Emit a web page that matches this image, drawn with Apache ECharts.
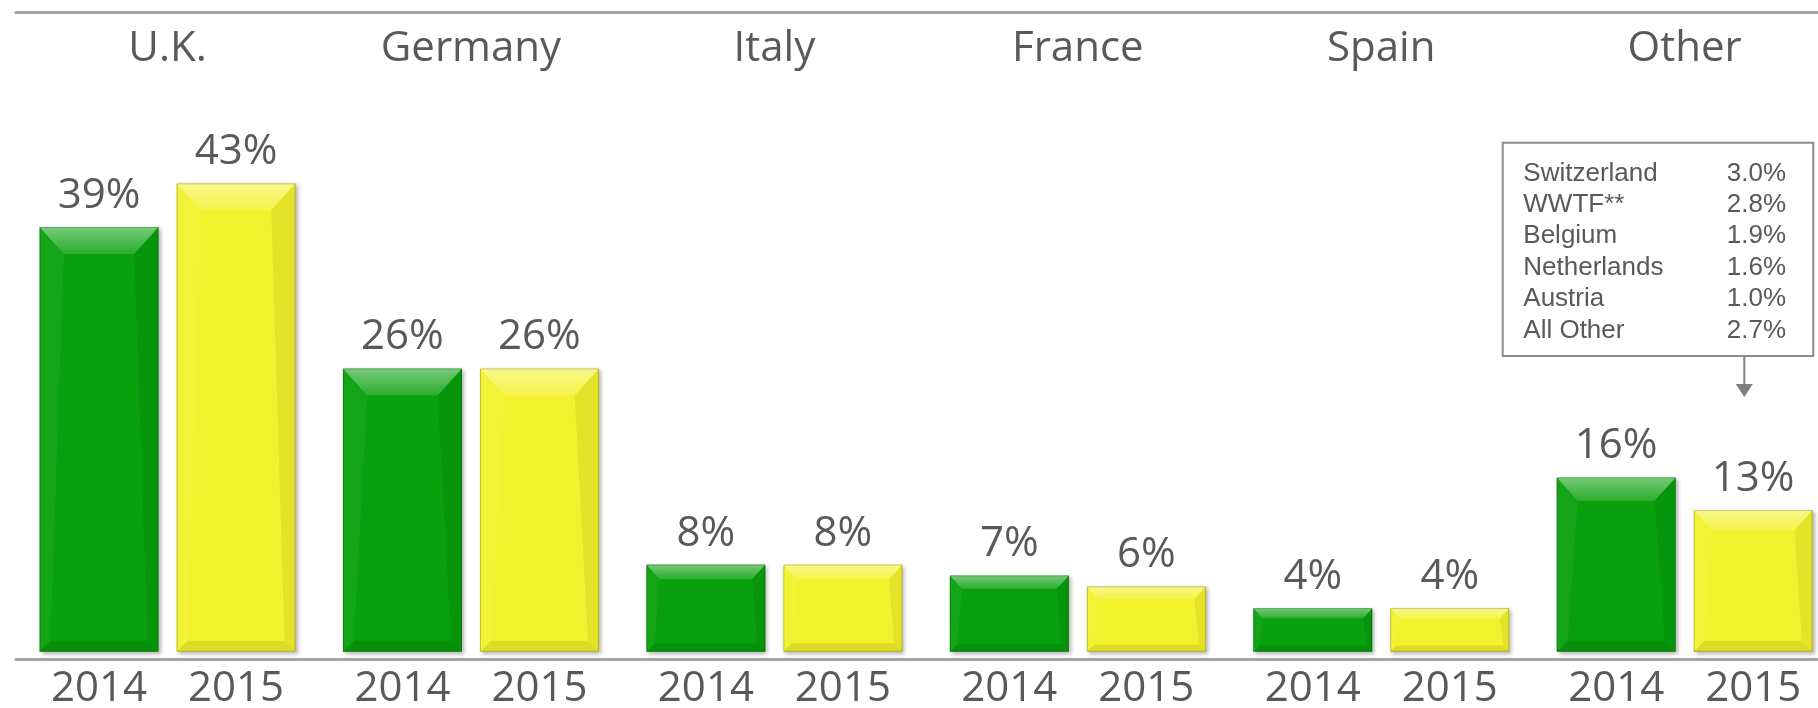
<!DOCTYPE html>
<html><head><meta charset="utf-8">
<script src="https://cdn.jsdelivr.net/npm/echarts@6/dist/echarts.min.js"></script>
<style>html,body{margin:0;padding:0;background:#fff}#c{width:1818px;height:708px}</style>
</head><body><div id="c"></div>
<script>
// ---- data ----
const categories = ['U.K.', 'Germany', 'Italy', 'France', 'Spain', 'Other'];
const years = ['2014', '2015'];
const share2014 = [39, 26, 8, 7, 4, 16];
const share2015 = [43, 26, 8, 6, 4, 13];
const otherNames = ['Switzerland', 'WWTF**', 'Belgium', 'Netherlands', 'Austria', 'All Other'];
const otherShares = ['3.0%', '2.8%', '1.9%', '1.6%', '1.0%', '2.7%'];

// ---- style / layout ----
const BAR_W = 119, BAR_GAP = 18;
const TEXT = '#595959';
const FONT = '"Open Sans", sans-serif';
const FW = 500;
const COLORS = ['#08A00C', '#F2F22C'];
const LINE = '#A6A6A6';

function bevel(sideIdx) {
  return function (params, api) {
    const cat = api.value(0), v = api.value(1);
    const base = api.coord([cat, 0]);
    const top = api.coord([cat, v]);
    const cx = base[0] + (sideIdx === 0 ? -1 : 1) * (BAR_W + BAR_GAP) / 2;
    const x0 = cx - BAR_W / 2, x1 = cx + BAR_W / 2, y0 = top[1], y1 = base[1];
    const h = y1 - y0;
    const b = Math.min(27, 6 + h * 0.1);
    const bi = b * 0.9;
    const s = Math.min(11, 4 + h * 0.05);
    return {
      type: 'group', children: [
        { type: 'polygon', shape: { points: [[x0, y0], [x1, y0], [x1 - bi, y0 + b], [x0 + bi, y0 + b]] },
          style: { fill: { type: 'linear', x: 0, y: 0, x2: 0, y2: 1, colorStops: [
            { offset: 0, color: 'rgba(255,255,255,0.45)' }, { offset: 1, color: 'rgba(255,255,255,0.14)' }] } } },
        { type: 'polygon', shape: { points: [[x0, y0], [x0 + bi, y0 + b], [x0 + s, y1 - s], [x0, y1]] },
          style: { fill: 'rgba(255,255,255,0.05)' } },
        { type: 'polygon', shape: { points: [[x1, y0], [x1 - bi, y0 + b], [x1 - s, y1 - s], [x1, y1]] },
          style: { fill: 'rgba(0,0,0,0.06)' } },
        { type: 'polygon', shape: { points: [[x0, y1], [x1, y1], [x1 - s, y1 - s], [x0 + s, y1 - s]] },
          style: { fill: 'rgba(0,0,0,0.09)' } },
        { type: 'rect', shape: { x: x0 + 0.5, y: y0 + 0.5, width: BAR_W - 1, height: h - 1 },
          style: { fill: null, stroke: 'rgba(0,0,0,0.2)', lineWidth: 1 } }
      ]
    };
  };
}

const chart = echarts.init(document.getElementById('c'), null, { renderer: 'canvas' });

const BOX_FONT = '26px "Liberation Sans", Arial, sans-serif';
const graphics = [
  { type: 'rect', shape: { x: 1502.7, y: 142.7, width: 310.6, height: 213.3 },
    style: { fill: '#fff', stroke: '#8C8C8C', lineWidth: 2 } },
  { type: 'line', shape: { x1: 1744.3, y1: 357, x2: 1744.3, y2: 386 },
    style: { stroke: '#7F7F7F', lineWidth: 2 } },
  { type: 'polygon', shape: { points: [[1735.8, 384], [1752.8, 384], [1744.3, 397]] },
    style: { fill: '#7F7F7F' } }
];
otherNames.forEach(function (n, i) {
  graphics.push({ type: 'text', x: 1523.3, y: 173.5 + 31.4 * i,
    style: { text: n, font: BOX_FONT, fill: TEXT, align: 'left', verticalAlign: 'middle' } });
  graphics.push({ type: 'text', x: 1786, y: 173.5 + 31.4 * i,
    style: { text: otherShares[i], font: BOX_FONT, fill: TEXT, align: 'right', verticalAlign: 'middle' } });
});

const yearRich = {
  a: { width: BAR_W + BAR_GAP, align: 'center', fontSize: 42, fontWeight: FW, fontFamily: FONT, color: TEXT },
  b: { width: BAR_W + BAR_GAP, align: 'center', fontSize: 42, fontWeight: FW, fontFamily: FONT, color: TEXT }
};

const barLabel = {
  show: true, position: 'top', distance: 10, fontSize: 42, fontWeight: FW, fontFamily: FONT, color: TEXT,
  formatter: function (p) { return p.value + '%'; }
};

chart.setOption({
  animation: false,
  backgroundColor: '#fff',
  grid: { left: 15.8, right: -18.4, top: 12.3, bottom: 56.3, containLabel: false, outerBoundsMode: 'none' },
  xAxis: [
    { type: 'category', data: categories, position: 'bottom', offset: 7.3,
      axisLine: { onZero: false, lineStyle: { color: LINE, width: 3 } },
      axisTick: { show: false },
      axisLabel: { interval: 0, margin: 9, formatter: function () { return '{a|' + years[0] + '}{b|' + years[1] + '}'; }, rich: yearRich },
      splitLine: { show: false } },
    { type: 'category', data: categories, position: 'top',
      axisLine: { onZero: false, lineStyle: { color: LINE, width: 3 } },
      axisTick: { show: false },
      axisLabel: { interval: 0, inside: true, margin: 16, fontSize: 42, fontWeight: FW, fontFamily: FONT, color: TEXT },
      splitLine: { show: false } }
  ],
  yAxis: { type: 'value', min: 0, max: 58.7, show: false, splitLine: { show: false } },
  series: [
    { name: years[0], type: 'bar', data: share2014, barWidth: BAR_W, barGap: (BAR_GAP / BAR_W * 100) + '%',
      itemStyle: { color: COLORS[0], shadowBlur: 4, shadowColor: 'rgba(0,0,0,0.3)', shadowOffsetX: 2, shadowOffsetY: 2 },
      label: barLabel },
    { name: years[1], type: 'bar', data: share2015, barWidth: BAR_W, barGap: (BAR_GAP / BAR_W * 100) + '%',
      itemStyle: { color: COLORS[1], shadowBlur: 4, shadowColor: 'rgba(0,0,0,0.3)', shadowOffsetX: 2, shadowOffsetY: 2 },
      label: barLabel },
    { type: 'custom', silent: true, z: 3, renderItem: bevel(0), encode: { x: 0, y: 1 },
      data: share2014.map(function (v, i) { return [i, v]; }) },
    { type: 'custom', silent: true, z: 3, renderItem: bevel(1), encode: { x: 0, y: 1 },
      data: share2015.map(function (v, i) { return [i, v]; }) }
  ],
  graphic: graphics
});
</script>
</body></html>
